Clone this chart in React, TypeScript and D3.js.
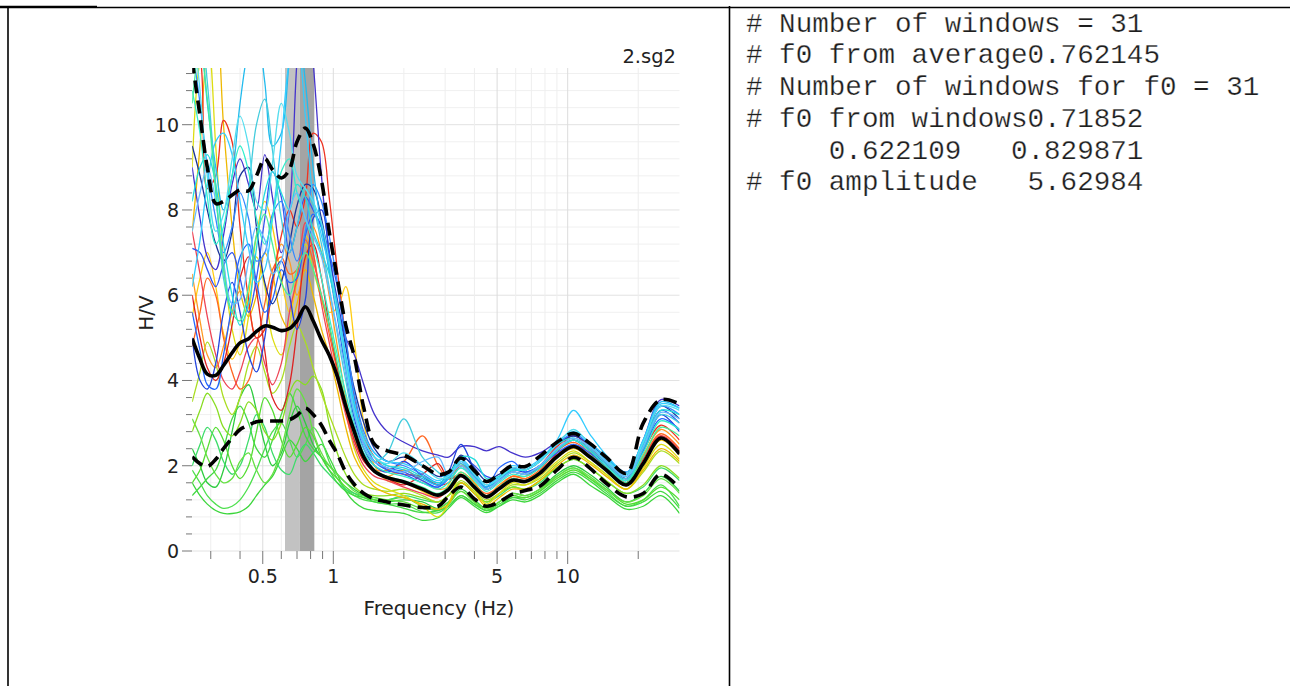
import React from "react";
import * as d3 from "d3";

// Frequency grid (Hz)
const FREQ = [0.25, 0.27, 0.29, 0.315, 0.34, 0.37, 0.40, 0.435, 0.47, 0.51, 0.55, 0.60, 0.65, 0.70, 0.76, 0.82, 0.89, 0.96, 1.04, 1.13, 1.23, 1.35, 1.5, 1.7,
  2.0, 2.4, 2.8, 3.1, 3.5, 4.0, 4.5, 5.1, 5.8, 6.6, 7.6, 9.0, 10.6, 12.4, 14.6, 17.8, 21, 25, 30];

const MEAN = [4.98, 4.5, 4.15, 4.12, 4.35, 4.65, 4.88, 4.98, 5.15, 5.28, 5.25, 5.17, 5.22, 5.4, 5.73, 5.4, 4.95, 4.6, 4.1, 3.4, 2.8, 2.2, 1.87, 1.72,
  1.62, 1.45, 1.31, 1.44, 1.77, 1.50, 1.27, 1.46, 1.66, 1.63, 1.82, 2.21, 2.45, 2.21, 1.90, 1.55, 2.05, 2.65, 2.28];
const UPPER = [11.5, 10.2, 9.0, 8.15, 8.2, 8.35, 8.47, 8.45, 8.8, 9.2, 8.95, 8.75, 8.95, 9.6, 9.92, 9.55, 8.7, 7.5, 6.4, 5.3, 4.55, 3.35, 2.5, 2.35,
  2.25, 2.0, 1.8, 1.85, 2.18, 1.88, 1.63, 1.8, 2.0, 1.98, 2.22, 2.55, 2.76, 2.53, 2.2, 1.82, 3.0, 3.55, 3.45];
const LOWER = [2.21, 2.05, 1.98, 2.15, 2.4, 2.65, 2.85, 2.95, 3.03, 3.05, 3.05, 3.05, 3.08, 3.18, 3.35, 3.2, 2.95, 2.6, 2.28, 1.85, 1.56, 1.35, 1.22, 1.15,
  1.08, 1.02, 1.05, 1.28, 1.5, 1.22, 1.05, 1.15, 1.33, 1.42, 1.52, 1.9, 2.2, 1.95, 1.59, 1.27, 1.35, 1.8, 1.47];

const WINDOW_COLORS = [
  "#3cd63c", "#4ee04e", "#2ecc40", "#55dd33", "#3ddc6a", "#66e044", "#44d844", "#88dd22",
  "#aadd22", "#dddd11", "#ffcc11", "#eeb800",
  "#ff9922", "#ff6622", "#ee3322", "#dd2222", "#ee4455",
  "#4433cc", "#2244dd", "#3355ee", "#2266ff", "#1a3399", "#3388ff",
  "#22bbee", "#33ccff", "#22dddd", "#44ccdd", "#33eecc", "#55ddee", "#66bbff", "#44ee99",
];

const WINDOW_VALUES = [
  [1.6, 1.3, 1.1, 0.95, 0.88, 0.88, 0.92, 1.05, 1.3, 1.55, 1.75, 2.2, 2.6, 2.4, 2.1, 2.3, 2.5, 2.2, 1.8, 1.4, 1.15, 1.0, 0.95, 0.92, 0.88, 0.72, 0.78, 1.0, 1.25, 1.05, 0.9, 1.05, 1.2, 1.15, 1.3, 1.6, 1.8, 1.55, 1.3, 0.98, 1.05, 1.3, 0.88],
  [1.9, 1.6, 1.3, 1.1, 1.0, 1.05, 1.2, 1.5, 1.9, 2.4, 2.8, 3.0, 2.6, 2.2, 2.5, 2.9, 2.6, 2.1, 1.7, 1.45, 1.3, 1.2, 1.15, 1.1, 1.1, 0.92, 0.9, 1.05, 1.3, 1.1, 0.95, 1.1, 1.25, 1.25, 1.4, 1.75, 1.95, 1.7, 1.4, 1.05, 1.2, 1.55, 1.05],
  [2.4, 2.0, 1.6, 1.5, 1.9, 2.8, 3.6, 3.9, 3.3, 2.5, 2.0, 2.3, 3.0, 3.4, 3.0, 2.5, 2.2, 2.0, 1.8, 1.6, 1.45, 1.3, 1.2, 1.15, 1.2, 1.15, 1.0, 1.15, 1.45, 1.2, 1.0, 1.15, 1.35, 1.3, 1.45, 1.8, 2.0, 1.8, 1.5, 1.15, 1.35, 1.75, 1.4],
  [1.6, 1.9, 2.4, 2.9, 2.6, 2.0, 1.7, 2.0, 2.8, 3.6, 3.3, 2.6, 2.2, 2.5, 2.9, 2.7, 2.2, 1.9, 1.7, 1.5, 1.35, 1.25, 1.2, 1.2, 1.25, 1.05, 0.95, 1.1, 1.4, 1.15, 0.95, 1.15, 1.3, 1.25, 1.4, 1.7, 1.9, 1.7, 1.45, 1.1, 1.2, 1.5, 1.2],
  [2.0, 2.5, 2.9, 2.6, 2.1, 1.8, 2.0, 2.6, 3.2, 2.9, 2.3, 1.9, 1.8, 2.2, 2.5, 2.3, 2.0, 1.8, 1.6, 1.45, 1.35, 1.3, 1.25, 1.2, 1.3, 1.2, 1.15, 1.3, 1.6, 1.35, 1.15, 1.3, 1.5, 1.45, 1.6, 1.95, 2.15, 1.95, 1.65, 1.35, 1.5, 1.95, 1.65],
  [3.1, 2.7, 2.2, 1.8, 1.6, 1.7, 2.1, 2.3, 1.9, 1.6, 1.8, 2.4, 3.2, 3.8, 3.5, 2.8, 2.3, 2.0, 1.8, 1.6, 1.4, 1.3, 1.25, 1.2, 1.15, 1.0, 1.0, 1.15, 1.4, 1.15, 1.0, 1.15, 1.35, 1.3, 1.45, 1.75, 1.95, 1.75, 1.45, 1.15, 1.3, 1.7, 1.35],
  [1.3, 1.5, 1.7, 1.9, 2.4, 3.1, 3.4, 3.0, 2.4, 2.2, 2.6, 3.2, 3.7, 3.3, 2.7, 2.4, 2.2, 1.9, 1.6, 1.4, 1.3, 1.25, 1.15, 1.1, 1.0, 0.9, 0.95, 1.05, 1.3, 1.1, 0.95, 1.05, 1.25, 1.2, 1.35, 1.65, 1.85, 1.65, 1.35, 1.05, 1.15, 1.4, 1.0],
  [2.8, 3.3, 3.7, 3.4, 2.9, 2.7, 3.0, 3.5, 3.3, 2.8, 2.6, 3.0, 3.7, 4.0, 3.9, 4.1, 3.8, 3.0, 2.3, 1.8, 1.5, 1.35, 1.3, 1.3, 1.35, 1.25, 1.15, 1.3, 1.6, 1.35, 1.15, 1.35, 1.5, 1.45, 1.65, 1.95, 2.15, 1.95, 1.65, 1.35, 1.55, 2.0, 1.7],
  [3.5, 4.2, 4.9, 4.4, 3.6, 3.2, 3.6, 4.4, 4.8, 4.2, 3.7, 4.0, 4.8, 5.3, 4.9, 4.3, 3.7, 3.2, 2.7, 2.2, 1.8, 1.55, 1.45, 1.4, 1.45, 1.3, 1.15, 1.3, 1.65, 1.4, 1.2, 1.35, 1.55, 1.55, 1.7, 2.05, 2.3, 2.1, 1.8, 1.45, 1.85, 2.35, 2.05],
  [9.0, 11.5, 12.0, 9.5, 6.8, 5.2, 4.6, 5.5, 6.9, 6.2, 5.0, 4.6, 5.3, 6.5, 7.2, 6.6, 5.9, 5.3, 4.4, 3.3, 2.4, 1.9, 1.6, 1.45, 1.3, 1.05, 0.8, 1.1, 1.8, 1.45, 1.1, 1.35, 1.6, 1.55, 1.75, 2.1, 2.35, 2.1, 1.8, 1.45, 1.95, 2.5, 2.15],
  [5.5, 6.4, 7.0, 6.2, 5.1, 4.5, 4.9, 6.0, 7.4, 8.2, 7.6, 6.4, 5.6, 6.3, 7.4, 7.0, 5.9, 5.6, 5.7, 6.2, 4.9, 3.0, 2.0, 1.65, 1.6, 1.4, 1.25, 1.55, 2.05, 1.6, 1.25, 1.5, 1.75, 1.7, 1.85, 2.2, 2.4, 2.2, 1.9, 1.55, 2.1, 2.6, 2.25],
  [7.5, 9.5, 11.8, 12.5, 10.0, 7.6, 6.1, 5.5, 6.0, 7.0, 6.5, 5.5, 5.2, 5.8, 6.6, 6.0, 5.2, 4.6, 3.8, 2.9, 2.2, 1.8, 1.5, 1.35, 1.25, 1.1, 0.98, 1.1, 1.6, 1.35, 1.05, 1.25, 1.45, 1.45, 1.65, 2.0, 2.25, 2.05, 1.75, 1.45, 1.9, 2.4, 2.1],
  [6.5, 5.4, 4.6, 4.3, 4.8, 5.6, 6.1, 5.7, 5.0, 5.2, 6.2, 7.2, 6.8, 6.0, 6.8, 7.6, 7.0, 6.0, 4.8, 3.6, 2.7, 2.2, 1.9, 1.75, 1.9, 1.65, 1.45, 1.5, 1.85, 1.6, 1.3, 1.55, 1.75, 1.75, 1.95, 2.35, 2.6, 2.35, 1.95, 1.6, 2.25, 2.85, 2.5],
  [4.8, 5.6, 6.4, 6.0, 5.0, 4.2, 3.8, 4.0, 4.8, 5.8, 6.6, 6.9, 6.5, 6.6, 7.3, 6.8, 6.0, 5.1, 4.2, 3.3, 2.6, 2.15, 1.9, 1.9, 2.1, 2.7, 2.0, 1.7, 1.8, 1.55, 1.35, 1.5, 1.75, 1.7, 1.9, 2.35, 2.55, 2.3, 1.95, 1.6, 2.2, 2.75, 2.4],
  [12.0, 11.6, 8.5, 8.8, 10.1, 9.6, 7.6, 5.9, 5.0, 5.2, 6.3, 7.4, 8.0, 7.6, 8.3, 9.8, 9.6, 8.3, 6.6, 5.0, 3.6, 2.7, 2.2, 1.9, 1.8, 1.75, 1.55, 1.6, 2.0, 1.7, 1.45, 1.65, 1.85, 1.8, 2.0, 2.45, 2.7, 2.45, 2.05, 1.7, 2.35, 2.95, 2.6],
  [6.0, 5.0, 4.3, 4.0, 4.4, 5.3, 6.4, 6.9, 6.1, 4.7, 3.6, 3.3, 3.9, 5.2, 6.9, 7.2, 6.4, 5.3, 4.3, 3.4, 2.6, 2.1, 1.85, 1.7, 1.55, 1.8, 2.05, 1.7, 1.75, 1.5, 1.25, 1.45, 1.65, 1.65, 1.85, 2.3, 2.75, 2.35, 1.95, 1.6, 2.15, 2.7, 2.35],
  [7.5, 6.5, 5.5, 4.6, 4.0, 3.8, 4.2, 4.8, 5.0, 4.4, 3.9, 4.4, 5.6, 6.4, 7.7, 7.0, 5.8, 4.9, 4.0, 3.2, 2.5, 2.0, 1.75, 1.65, 1.5, 1.35, 1.25, 1.45, 1.75, 1.5, 1.3, 1.5, 1.7, 1.65, 1.85, 2.25, 2.5, 2.25, 1.95, 1.55, 2.1, 2.7, 2.35],
  [9.0, 7.8, 6.9, 6.6, 7.4, 8.6, 9.2, 8.6, 8.0, 9.3, 8.3, 7.0, 8.0, 11.5, 13.5, 11.5, 8.8, 7.0, 5.9, 5.0, 4.6, 3.9, 3.2, 2.8, 2.55, 2.35, 2.25, 2.2, 2.45, 2.45, 2.35, 2.45, 2.3, 2.2, 2.3, 2.55, 2.7, 2.5, 2.2, 1.85, 2.6, 3.55, 3.4],
  [5.0, 4.0, 3.8, 4.4, 5.6, 6.3, 5.6, 4.6, 4.2, 5.0, 6.4, 6.8, 6.0, 5.2, 5.9, 7.8, 8.0, 7.0, 5.6, 4.2, 3.1, 2.4, 2.0, 1.85, 2.1, 1.75, 1.55, 1.85, 2.5, 1.9, 1.45, 1.65, 1.9, 1.85, 2.0, 2.4, 2.6, 2.35, 2.05, 1.7, 2.4, 3.2, 2.8],
  [7.1, 7.0, 6.6, 6.2, 6.7, 7.0, 6.4, 5.6, 6.4, 7.8, 8.9, 8.3, 7.0, 7.6, 8.3, 8.0, 7.6, 6.6, 5.5, 4.3, 3.2, 2.5, 2.1, 1.95, 1.85, 1.65, 1.5, 1.75, 2.2, 2.0, 1.75, 1.7, 1.85, 1.8, 1.95, 2.35, 2.6, 2.4, 2.05, 1.7, 2.45, 3.3, 3.0],
  [5.6, 4.7, 3.9, 3.8, 4.6, 5.8, 6.9, 7.2, 6.3, 5.6, 5.9, 6.6, 6.3, 6.4, 7.4, 7.9, 7.6, 7.0, 6.2, 4.9, 3.5, 2.6, 2.1, 1.9, 1.8, 1.6, 1.5, 1.7, 2.1, 1.75, 1.5, 1.95, 2.1, 1.85, 2.0, 2.3, 2.5, 2.3, 2.0, 1.65, 2.35, 3.1, 2.85],
  [9.5, 8.8, 8.0, 7.2, 6.8, 7.5, 8.8, 9.0, 7.6, 6.3, 5.8, 6.3, 7.2, 8.1, 8.6, 8.5, 7.8, 6.8, 5.8, 4.8, 3.8, 3.0, 2.4, 2.1, 2.2, 2.0, 1.75, 1.8, 2.25, 1.95, 1.65, 1.8, 1.95, 1.9, 2.1, 2.5, 2.7, 2.5, 2.15, 1.8, 2.5, 3.4, 3.1],
  [11.8, 10.5, 9.0, 7.8, 7.0, 7.6, 8.4, 7.8, 6.8, 7.0, 7.9, 8.2, 7.4, 6.8, 7.5, 8.6, 8.2, 7.4, 6.3, 5.0, 3.7, 2.8, 2.3, 2.1, 2.0, 1.8, 1.6, 1.75, 2.1, 1.8, 1.5, 1.7, 1.95, 1.9, 2.1, 2.5, 2.75, 2.5, 2.15, 1.8, 2.55, 3.4, 3.2],
  [14.0, 12.5, 10.5, 9.0, 8.0, 8.8, 10.5, 11.8, 12.3, 11.0, 9.5, 9.8, 11.5, 12.5, 11.0, 9.0, 7.6, 6.6, 5.6, 4.5, 3.4, 2.6, 2.2, 2.0, 1.9, 1.7, 1.55, 1.7, 2.05, 1.75, 1.5, 1.7, 1.9, 1.9, 2.1, 2.55, 2.8, 2.55, 2.2, 1.8, 2.6, 3.5, 3.35],
  [6.2, 7.3, 8.6, 9.6, 9.8, 9.3, 8.2, 7.1, 6.3, 6.6, 7.8, 9.6, 11.5, 12.0, 10.2, 8.3, 7.4, 6.7, 5.8, 4.6, 3.5, 2.7, 2.3, 2.1, 2.05, 1.85, 1.65, 1.8, 2.15, 1.85, 1.55, 1.75, 2.0, 1.95, 2.15, 2.6, 3.3, 2.75, 2.25, 1.85, 2.6, 3.45, 3.35],
  [8.2, 9.0, 9.3, 8.6, 7.2, 6.0, 5.3, 5.8, 7.1, 8.4, 8.9, 8.4, 8.0, 8.6, 8.3, 7.5, 7.0, 6.5, 5.6, 4.4, 3.3, 2.6, 2.2, 2.0, 1.95, 1.75, 1.6, 1.75, 2.2, 2.15, 1.7, 1.75, 1.9, 1.9, 2.1, 2.5, 2.65, 2.45, 2.1, 1.75, 2.5, 3.3, 3.2],
  [11.5, 12.5, 11.0, 8.6, 6.4, 5.6, 6.6, 8.4, 10.0, 10.6, 9.4, 7.8, 7.0, 7.6, 8.5, 8.1, 7.2, 6.2, 5.1, 4.0, 3.0, 2.4, 2.1, 2.3, 3.1, 2.2, 1.85, 1.7, 1.95, 1.7, 1.45, 1.65, 1.85, 1.8, 2.0, 2.4, 2.6, 2.4, 2.05, 1.7, 2.4, 3.2, 3.0],
  [10.8, 9.8, 8.3, 7.2, 7.6, 8.8, 9.5, 8.9, 7.8, 7.2, 7.8, 8.9, 9.2, 8.4, 7.8, 7.2, 6.4, 5.5, 4.6, 3.7, 2.9, 2.3, 2.0, 1.85, 1.75, 1.6, 1.45, 1.6, 1.95, 1.65, 1.4, 1.6, 1.8, 1.75, 1.95, 2.35, 2.6, 2.35, 2.0, 1.65, 2.3, 3.05, 2.85],
  [12.5, 10.8, 8.8, 7.5, 7.9, 9.2, 10.2, 9.5, 8.2, 8.0, 9.1, 10.5, 9.8, 8.8, 8.5, 8.2, 7.7, 6.8, 5.6, 4.4, 3.3, 2.6, 2.2, 2.05, 2.3, 2.0, 1.7, 1.75, 2.1, 1.8, 1.55, 1.7, 1.95, 1.9, 2.1, 2.5, 2.85, 2.5, 2.15, 1.8, 2.55, 3.4, 3.3],
  [7.5, 8.4, 9.0, 8.2, 6.8, 5.8, 5.9, 6.8, 7.6, 7.3, 6.5, 6.8, 8.0, 8.4, 7.8, 7.4, 6.9, 6.1, 5.2, 4.2, 3.2, 2.5, 2.1, 1.95, 1.85, 2.1, 2.2, 1.8, 2.0, 1.7, 1.45, 1.65, 1.85, 1.8, 2.0, 2.4, 2.65, 2.45, 2.1, 1.75, 2.45, 3.25, 3.1],
  [10.5, 11.8, 10.6, 8.4, 6.6, 5.6, 5.4, 6.2, 7.4, 7.9, 7.2, 6.3, 6.0, 6.6, 7.0, 6.6, 6.0, 5.3, 4.4, 3.5, 2.7, 2.2, 1.9, 1.75, 1.65, 1.5, 1.35, 1.5, 1.85, 1.55, 1.3, 1.5, 1.7, 1.65, 1.85, 2.2, 2.45, 2.25, 1.95, 1.6, 2.2, 2.9, 2.7],
];

// f0 band: min, average, max
const F0_BAND = [0.622109, 0.71852, 0.829871];

const Y_TICK_LABELS = [0, 2, 4, 6, 8, 10];
const X_TICK_LABELS = [0.5, 1, 5, 10];

const INFO_LINES = [
  "# Number of windows = 31",
  "# f0 from average0.762145",
  "# Number of windows for f0 = 31",
  "# f0 from windows0.71852",
  "     0.622109   0.829871",
  "# f0 amplitude   5.62984",
];

const W = 1290;
const H = 686;
const PL = 192.2, PR = 679.5, PT = 68, PB = 551;

export default function App() {
  const x = d3.scaleLog().domain([0.25, 30]).range([PL, PR]);
  const y = d3.scaleLinear().domain([0, 11.33]).range([PB, PT]);

  const line = d3
    .line<number>()
    .x((_, i) => x(FREQ[i]))
    .y((v) => y(v))
    .curve(d3.curveCatmullRom.alpha(0.5));

  const minorX: number[] = [];
  [0.1, 1, 10].forEach((dec) => {
    for (let k = 1; k <= 9; k++) {
      const f = dec * k;
      if (f >= 0.25 && f < 29.9) minorX.push(f);
    }
  });
  const yMinor = d3.range(0, 11.3, 0.4).map((v) => Math.round(v * 10) / 10);
  const isMajorY = (v: number) => Math.abs(v / 2 - Math.round(v / 2)) < 1e-6;
  const isLabelX = (f: number) => X_TICK_LABELS.some((t) => Math.abs(t - f) < 1e-6);

  const font = "'DejaVu Sans', Verdana, sans-serif";

  return (
    <svg width={W} height={H} style={{ position: "absolute", left: 0, top: 0, background: "#fff" }}>
      <defs>
        <clipPath id="plotClip">
          <rect x={PL} y={PT} width={PR - PL} height={PB - PT} />
        </clipPath>
      </defs>
      <rect x={0} y={0} width={W} height={H} fill="#fff" />

      {/* table borders */}
      <line x1={0} x2={97} y1={7} y2={7} stroke="#000" strokeWidth={2.5} />
      <line x1={97} x2={W} y1={7.5} y2={7.5} stroke="#000" strokeWidth={1.5} />
      <line x1={8} x2={8} y1={6} y2={H} stroke="#000" strokeWidth={1.6} />
      <line x1={729.5} x2={729.5} y1={6} y2={H} stroke="#000" strokeWidth={1.6} />

      {/* gridlines */}
      {yMinor.map((v) => (
        <line key={"gy" + v} x1={PL} x2={PR} y1={y(v)} y2={y(v)}
          stroke={isMajorY(v) ? "#e2e2e2" : "#f0f0f0"} strokeWidth={1} />
      ))}
      {minorX.map((f) => (
        <line key={"gx" + f} x1={x(f)} x2={x(f)} y1={PT} y2={PB}
          stroke={isLabelX(f) ? "#dcdcdc" : "#eeeeee"} strokeWidth={1} />
      ))}

      {/* f0 band */}
      <rect x={x(F0_BAND[0])} y={PT} width={x(F0_BAND[1]) - x(F0_BAND[0])} height={PB - PT} fill="#c2c2c2" />
      <rect x={x(F0_BAND[1])} y={PT} width={x(F0_BAND[2]) - x(F0_BAND[1])} height={PB - PT} fill="#a4a4a4" />

      {/* window curves */}
      <g clipPath="url(#plotClip)">
        {WINDOW_VALUES.map((vals, i) => (
          <path key={"w" + i} d={line(vals) || ""} fill="none" stroke={WINDOW_COLORS[i]} strokeWidth={1.3} />
        ))}
        <path d={line(LOWER) || ""} fill="none" stroke="#000" strokeWidth={3.6} strokeDasharray="13,7" />
        <path d={line(UPPER) || ""} fill="none" stroke="#000" strokeWidth={3.6} strokeDasharray="13,7" />
        <path d={line(MEAN) || ""} fill="none" stroke="#000" strokeWidth={3.6} />
      </g>

      {/* y ticks */}
      {yMinor.map((v) => (
        <line key={"ty" + v} x1={isMajorY(v) ? 182 : 186} x2={192} y1={y(v)} y2={y(v)} stroke="#777" strokeWidth={1} />
      ))}
      {Y_TICK_LABELS.map((v) => (
        <text key={"ly" + v} x={179} y={y(v)} dy="0.36em" textAnchor="end" fontFamily={font} fontSize={19} fill="#222">
          {v}
        </text>
      ))}
      {/* x ticks */}
      {minorX.map((f) => (
        <line key={"tx" + f} x1={x(f)} x2={x(f)} y1={PB} y2={isLabelX(f) ? 564 : 559} stroke="#777" strokeWidth={1} />
      ))}
      {X_TICK_LABELS.map((f) => (
        <text key={"lx" + f} x={x(f)} y={583} textAnchor="middle" fontFamily={font} fontSize={19} fill="#222">
          {f}
        </text>
      ))}

      {/* titles */}
      <text x={439} y={615} textAnchor="middle" fontFamily={font} fontSize={20} fill="#222">Frequency (Hz)</text>
      <text transform="translate(153,313) rotate(-90)" textAnchor="middle" fontFamily={font} fontSize={20} fill="#222">H/V</text>
      <text x={676} y={63} textAnchor="end" fontFamily={font} fontSize={19.5} fill="#222">2.sg2</text>

      {/* info text */}
      {INFO_LINES.map((t, i) => (
        <text key={"info" + i} x={746} y={31.5 + i * 31.75} fontFamily="'Liberation Mono', 'Courier New', monospace"
          fontSize={27.6} fill="#1e1e1e" stroke="#fff" strokeWidth={0.25} style={{ whiteSpace: "pre" }}>
          {t}
        </text>
      ))}
    </svg>
  );
}
